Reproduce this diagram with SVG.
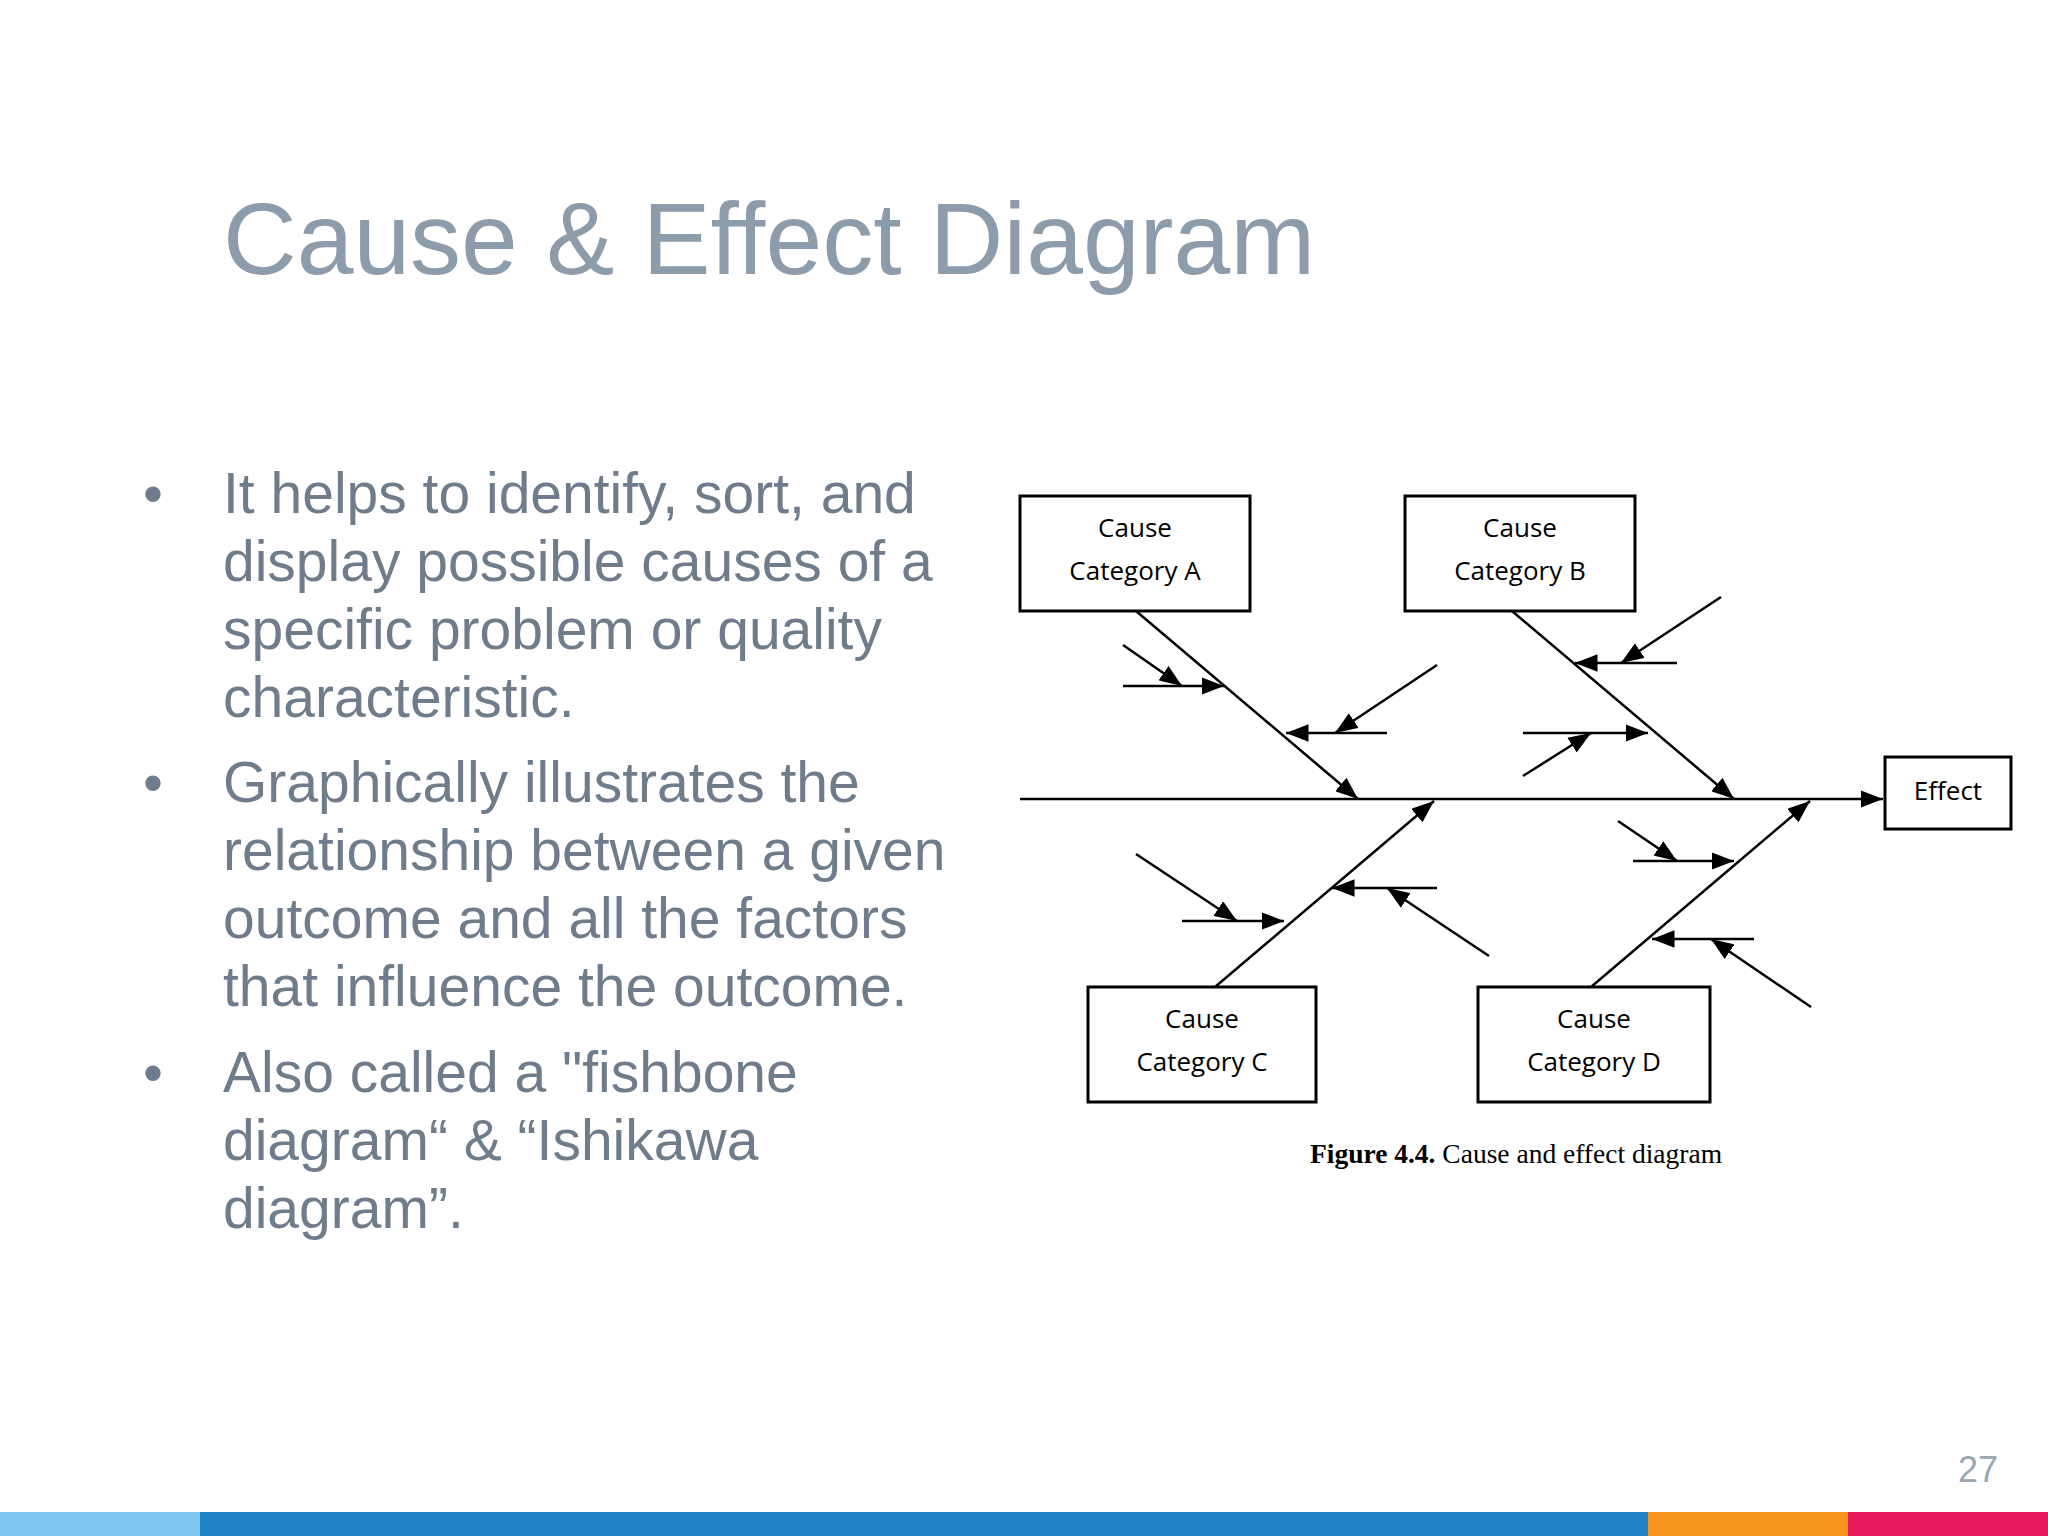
<svg xmlns="http://www.w3.org/2000/svg" width="2048" height="1536" viewBox="0 0 2048 1536">
<defs>
<marker id="ah" markerWidth="9" markerHeight="7" refX="9" refY="3.5" orient="auto" markerUnits="strokeWidth"><path d="M0,0 L9,3.5 L0,7 Z" fill="#000"/></marker>
<style>
.ln{stroke:#000;stroke-width:2.5;fill:none}
.ar{stroke:#000;stroke-width:2.5;fill:none;marker-end:url(#ah)}
.box{fill:#fff;stroke:#000;stroke-width:3}
.bt{font-family:"Open Sans","Liberation Sans",sans-serif;font-size:26px;fill:#000;text-anchor:middle}
.body{font-family:"Liberation Sans",Arial,sans-serif;font-size:57px;fill:#6e7c8b}
</style>
</defs>
<rect width="2048" height="1536" fill="#fff"/>
<text x="223" y="274" font-family="Liberation Sans,Arial,sans-serif" font-size="102" fill="#8d9cab">Cause &amp; Effect Diagram</text>
<g class="body">
<text x="143" y="513">•</text>
<text x="223" y="513">It helps to identify, sort, and</text>
<text x="223" y="581">display possible causes of a</text>
<text x="223" y="649">specific problem or quality</text>
<text x="223" y="717">characteristic.</text>
<text x="143" y="802">•</text>
<text x="223" y="802">Graphically illustrates the</text>
<text x="223" y="870">relationship between a given</text>
<text x="223" y="938">outcome and all the factors</text>
<text x="223" y="1006">that influence the outcome.</text>
<text x="143" y="1092">•</text>
<text x="223" y="1092">Also called a "fishbone</text>
<text x="223" y="1160">diagram“ &amp; “Ishikawa</text>
<text x="223" y="1228">diagram”.</text>
</g>
<g id="connectors">
<line class="ar" x1="1020" y1="799" x2="1883" y2="799"/>
<line class="ar" x1="1136" y1="611" x2="1358" y2="799"/>
<line class="ar" x1="1512" y1="611" x2="1734" y2="799"/>
<line class="ar" x1="1215" y1="987" x2="1434" y2="801"/>
<line class="ar" x1="1591" y1="987" x2="1810" y2="801"/>
<line class="ar" x1="1123" y1="686" x2="1224" y2="686"/>
<line class="ar" x1="1123" y1="645" x2="1182" y2="686"/>
<line class="ar" x1="1387" y1="733" x2="1286" y2="733"/>
<line class="ar" x1="1437" y1="665" x2="1335" y2="733"/>
<line class="ar" x1="1677" y1="663" x2="1575" y2="663"/>
<line class="ar" x1="1721" y1="597" x2="1621" y2="663"/>
<line class="ar" x1="1523" y1="733" x2="1648" y2="733"/>
<line class="ar" x1="1523" y1="776" x2="1591" y2="733"/>
<line class="ar" x1="1182" y1="921" x2="1284" y2="921"/>
<line class="ar" x1="1136" y1="854" x2="1237" y2="921"/>
<line class="ar" x1="1437" y1="888" x2="1332" y2="888"/>
<line class="ar" x1="1489" y1="956" x2="1387" y2="888"/>
<line class="ar" x1="1633" y1="861" x2="1734" y2="861"/>
<line class="ar" x1="1618" y1="821" x2="1677" y2="861"/>
<line class="ar" x1="1754" y1="939" x2="1652" y2="939"/>
<line class="ar" x1="1811" y1="1007" x2="1711" y2="939"/>
</g>
<g id="boxA"><rect class="box" x="1020" y="496" width="230" height="115"/><text class="bt" x="1135" y="537">Cause</text><text class="bt" x="1135" y="580">Category A</text></g>
<g id="boxB"><rect class="box" x="1405" y="496" width="230" height="115"/><text class="bt" x="1520" y="537">Cause</text><text class="bt" x="1520" y="580">Category B</text></g>
<g id="boxC"><rect class="box" x="1088" y="987" width="228" height="115"/><text class="bt" x="1202" y="1028">Cause</text><text class="bt" x="1202" y="1071">Category C</text></g>
<g id="boxD"><rect class="box" x="1478" y="987" width="232" height="115"/><text class="bt" x="1594" y="1028">Cause</text><text class="bt" x="1594" y="1071">Category D</text></g>
<g id="effect"><rect class="box" x="1885" y="757" width="126" height="72"/><text class="bt" x="1948" y="800">Effect</text></g>
<text x="1516" y="1163" text-anchor="middle" font-family="Liberation Serif,serif" font-size="27.5"><tspan font-weight="bold">Figure 4.4.</tspan> Cause and effect diagram</text>
<text x="1998" y="1482" text-anchor="end" font-family="Liberation Sans,Arial,sans-serif" font-size="36" fill="#9aa7b4">27</text>
<rect x="0" y="1512" width="200" height="24" fill="#7fc8f3"/>
<rect x="200" y="1512" width="1448" height="24" fill="#1f83c6"/>
<rect x="1648" y="1512" width="200" height="24" fill="#f7941d"/>
<rect x="1848" y="1512" width="200" height="24" fill="#e5195b"/>
</svg>
